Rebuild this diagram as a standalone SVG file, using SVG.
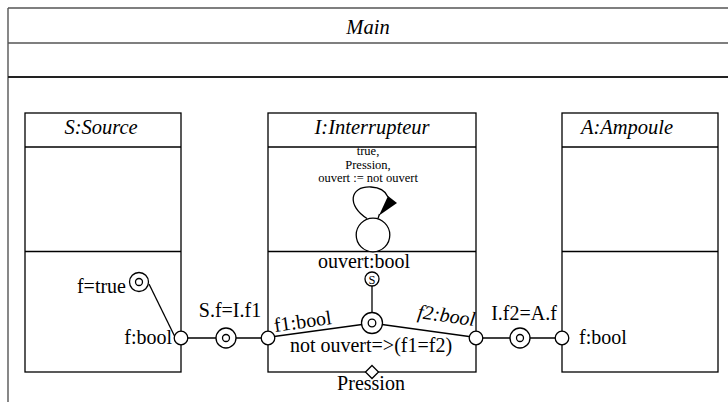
<svg xmlns="http://www.w3.org/2000/svg" width="728" height="402" viewBox="0 0 728 402">
  <style>
    .frame { fill: none; stroke: #555; stroke-width: 1.4; }
    .box { fill: #fff; stroke: #000; stroke-width: 1.3; }
    .ln { fill: none; stroke: #000; stroke-width: 1.3; }
    .port { fill: #fff; stroke: #000; stroke-width: 1.3; }
    text { font-family: "Liberation Serif", "Times New Roman", serif; fill: #000; }
    .lbl { font-size: 20px; }
    .title { font-size: 20.5px; font-style: italic; text-anchor: middle; }
    .small { font-size: 12.5px; text-anchor: middle; }
    .mid { text-anchor: middle; }
    .end { text-anchor: end; }
  </style>

  <!-- Main frame -->
  <g id="main">
    <line class="frame" x1="8" y1="8" x2="728" y2="8"/>
    <line class="frame" x1="8" y1="8" x2="8" y2="402"/>
    <line class="frame" x1="8" y1="43" x2="728" y2="43"/>
    <line x1="8" y1="77" x2="728" y2="77" stroke="#222" stroke-width="2.2"/>
    <text class="title" x="368" y="34">Main</text>
  </g>

  <!-- S:Source -->
  <g id="source">
    <rect class="box" x="25" y="113" width="156" height="259"/>
    <line class="ln" x1="25" y1="147" x2="181" y2="147"/>
    <line class="ln" x1="25" y1="251.5" x2="181" y2="251.5"/>
    <text class="title" x="101" y="134">S:Source</text>
    <line class="ln" x1="149" y1="284" x2="175" y2="337"/>
    <circle class="port" cx="139" cy="282" r="9.5"/>
    <circle class="port" cx="139" cy="282" r="3.5"/>
    <text class="lbl end" x="126" y="293">f=true</text>
    <text class="lbl end" x="172" y="344">f:bool</text>
  </g>

  <!-- I:Interrupteur -->
  <g id="interrupteur">
    <rect class="box" x="268" y="113" width="208" height="259"/>
    <line class="ln" x1="268" y1="147" x2="476" y2="147"/>
    <line class="ln" x1="268" y1="251.5" x2="476" y2="251.5"/>
    <text class="title" x="372" y="134">I:Interrupteur</text>
    <text class="small" x="368" y="155">true,</text>
    <text class="small" x="368" y="168.5">Pression,</text>
    <text class="small" x="368" y="182">ouvert := not ouvert</text>
    <!-- state with self transition -->
    <path class="ln" d="M 367 218.5 C 347 206, 349 186, 371 187 C 381 187.5, 386 192, 388 197"/>
    <line class="ln" x1="379.5" y1="214" x2="378" y2="218.5"/>
    <polygon points="388,196 397,203 379,215.5" fill="#000"/>
    <circle class="port" cx="373" cy="235" r="16.8"/>
    <text class="lbl mid" x="364" y="268">ouvert:bool</text>
    <line class="ln" x1="372" y1="286" x2="372" y2="312"/>
    <circle class="port" cx="372" cy="279" r="7"/>
    <text x="372" y="283.5" font-size="12.5" text-anchor="middle">S</text>
    <line class="ln" x1="274" y1="336.5" x2="362" y2="324.5"/>
    <line class="ln" x1="382" y1="324.5" x2="469" y2="336.5"/>
    <circle class="port" cx="372" cy="323" r="10.5"/>
    <circle class="port" cx="372" cy="323" r="3.8"/>
    <text class="lbl" transform="translate(275 332) rotate(-8)">f1:bool</text>
    <text class="lbl" font-style="italic" transform="translate(417 318) rotate(8)">f2:bool</text>
    <text class="lbl mid" x="371" y="352">not ouvert=&gt;(f1=f2)</text>
    <polygon class="port" points="372,365.5 378.5,372 372,378.5 365.5,372"/>
    <text class="lbl mid" x="371" y="390">Pression</text>
  </g>

  <!-- A:Ampoule -->
  <g id="ampoule">
    <rect class="box" x="562" y="113" width="156" height="259"/>
    <line class="ln" x1="562" y1="147" x2="718" y2="147"/>
    <line class="ln" x1="562" y1="251.5" x2="718" y2="251.5"/>
    <text class="title" x="627" y="134">A:Ampoule</text>
    <text class="lbl" x="579" y="344">f:bool</text>
  </g>

  <!-- connectors between parts -->
  <g id="connectors">
    <line class="ln" x1="181" y1="338" x2="268" y2="338"/>
    <line class="ln" x1="476" y1="338" x2="562" y2="338"/>
    <circle class="port" cx="181" cy="338" r="6.8"/>
    <circle class="port" cx="226" cy="338" r="10"/>
    <circle class="port" cx="226" cy="338" r="3.5"/>
    <circle class="port" cx="268" cy="338" r="6.8"/>
    <text class="lbl mid" x="230" y="317">S.f=I.f1</text>
    <circle class="port" cx="476" cy="338" r="6.8"/>
    <circle class="port" cx="520" cy="338" r="10"/>
    <circle class="port" cx="520" cy="338" r="3.5"/>
    <circle class="port" cx="562" cy="338" r="6.8"/>
    <text class="lbl mid" x="524" y="320">I.f2=A.f</text>
  </g>
</svg>
